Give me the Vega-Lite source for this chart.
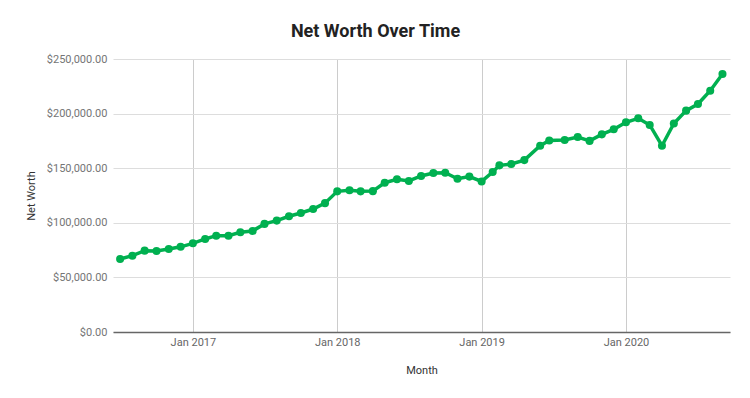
{
  "$schema": "https://vega.github.io/schema/vega-lite/v6.json",
  "autosize": "none",
  "width": 617,
  "height": 273,
  "padding": {"left": 113, "top": 59, "right": 20, "bottom": 66},
  "background": "#ffffff",
  "title": {
    "text": "Net Worth Over Time",
    "font": "Roboto",
    "fontSize": 18,
    "fontWeight": "bold",
    "color": "#222222",
    "anchor": "middle",
    "dx": -46,
    "offset": 12
  },
  "data": {
    "values": [
      {"Month": "2016-07-01", "NetWorth": 66900},
      {"Month": "2016-08-01", "NetWorth": 69900},
      {"Month": "2016-09-01", "NetWorth": 74500},
      {"Month": "2016-10-01", "NetWorth": 74200},
      {"Month": "2016-11-01", "NetWorth": 76000},
      {"Month": "2016-12-01", "NetWorth": 78000},
      {"Month": "2017-01-01", "NetWorth": 81200},
      {"Month": "2017-02-01", "NetWorth": 85200},
      {"Month": "2017-03-01", "NetWorth": 88200},
      {"Month": "2017-04-01", "NetWorth": 88200},
      {"Month": "2017-05-01", "NetWorth": 91300},
      {"Month": "2017-06-01", "NetWorth": 92500},
      {"Month": "2017-07-01", "NetWorth": 99000},
      {"Month": "2017-08-01", "NetWorth": 102000},
      {"Month": "2017-09-01", "NetWorth": 106000},
      {"Month": "2017-10-01", "NetWorth": 109000},
      {"Month": "2017-11-01", "NetWorth": 112600},
      {"Month": "2017-12-01", "NetWorth": 118000},
      {"Month": "2018-01-01", "NetWorth": 128800},
      {"Month": "2018-02-01", "NetWorth": 129800},
      {"Month": "2018-03-01", "NetWorth": 128800},
      {"Month": "2018-04-01", "NetWorth": 129000},
      {"Month": "2018-05-01", "NetWorth": 136700},
      {"Month": "2018-06-01", "NetWorth": 139800},
      {"Month": "2018-07-01", "NetWorth": 138300},
      {"Month": "2018-08-01", "NetWorth": 142900},
      {"Month": "2018-09-01", "NetWorth": 145600},
      {"Month": "2018-10-01", "NetWorth": 145900},
      {"Month": "2018-11-01", "NetWorth": 140300},
      {"Month": "2018-12-01", "NetWorth": 142300},
      {"Month": "2019-01-01", "NetWorth": 137900},
      {"Month": "2019-01-29", "NetWorth": 146500},
      {"Month": "2019-02-15", "NetWorth": 152600},
      {"Month": "2019-03-17", "NetWorth": 153800},
      {"Month": "2019-04-19", "NetWorth": 157400},
      {"Month": "2019-05-29", "NetWorth": 170600},
      {"Month": "2019-06-21", "NetWorth": 175400},
      {"Month": "2019-07-30", "NetWorth": 175800},
      {"Month": "2019-09-01", "NetWorth": 178600},
      {"Month": "2019-10-01", "NetWorth": 175000},
      {"Month": "2019-11-01", "NetWorth": 181000},
      {"Month": "2019-12-01", "NetWorth": 185600},
      {"Month": "2020-01-01", "NetWorth": 192000},
      {"Month": "2020-02-01", "NetWorth": 195700},
      {"Month": "2020-03-01", "NetWorth": 189600},
      {"Month": "2020-04-01", "NetWorth": 170600},
      {"Month": "2020-05-01", "NetWorth": 191000},
      {"Month": "2020-06-01", "NetWorth": 202700},
      {"Month": "2020-07-01", "NetWorth": 208800},
      {"Month": "2020-08-01", "NetWorth": 221000},
      {"Month": "2020-09-01", "NetWorth": 236300}
    ]
  },
  "mark": {
    "type": "line",
    "color": "#00b050",
    "strokeWidth": 3.5,
    "point": {"filled": true, "color": "#00b050", "size": 65, "opacity": 1}
  },
  "encoding": {
    "x": {
      "field": "Month",
      "type": "temporal",
      "title": "Month",
      "scale": {
        "type": "utc",
        "domain": [
          {"year": 2016, "month": 6, "date": 13, "utc": true},
          {"year": 2020, "month": 9, "date": 20, "utc": true}
        ]
      },
      "axis": {
        "format": "%b %Y",
        "tickCount": {"interval": "year", "step": 1},
        "grid": true,
        "gridColor": "#cccccc",
        "gridWidth": 1,
        "ticks": false,
        "domain": true,
        "domainColor": "#666666",
        "domainWidth": 1.5,
        "labelFont": "Roboto",
        "labelFontSize": 11,
        "labelColor": "#666666",
        "labelPadding": 4,
        "titleFont": "Roboto",
        "titleFontSize": 11,
        "titleFontWeight": "normal",
        "titleColor": "#333333",
        "titlePadding": 17
      }
    },
    "y": {
      "field": "NetWorth",
      "type": "quantitative",
      "title": "Net Worth",
      "scale": {"domain": [0, 250000], "nice": false},
      "axis": {
        "values": [0, 50000, 100000, 150000, 200000, 250000],
        "format": "$,.2f",
        "grid": true,
        "gridColor": "#dddddd",
        "gridWidth": 1,
        "ticks": false,
        "domain": false,
        "labelFont": "Roboto",
        "labelFontSize": 11,
        "labelColor": "#757575",
        "labelPadding": 6,
        "titleFont": "Roboto",
        "titleFontSize": 11,
        "titleFontWeight": "normal",
        "titleColor": "#333333",
        "titlePadding": 10
      }
    }
  },
  "config": {"view": {"stroke": null}}
}
